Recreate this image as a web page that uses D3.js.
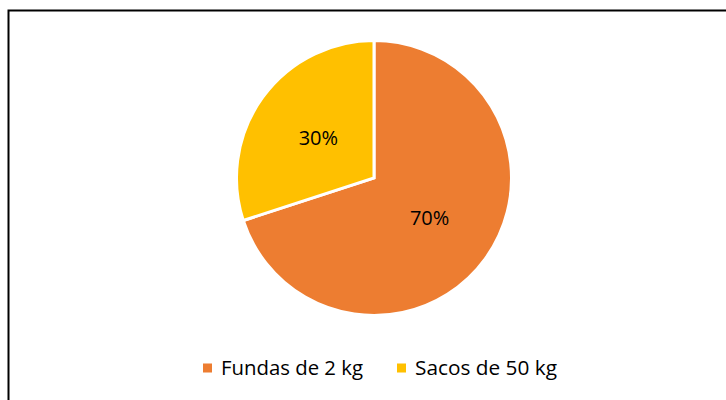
<!DOCTYPE html>
<html>
<head>
<meta charset="utf-8">
<script src="https://cdn.jsdelivr.net/npm/d3@7"></script>
<style>
  body { margin: 0; background: #fff; }
  text { font-family: "Open Sans", Lato, sans-serif; fill: #000; }
</style>
</head>
<body>
<div id="chart"></div>
<script>
// Données du graphique
const categories = ["Fundas de 2 kg", "Sacos de 50 kg"];
const values = [70, 30];
const labels = ["70%", "30%"];
const colors = ["#ED7D31", "#FFC000"];

const width = 726;
const height = 400;

const svg = d3.select("#chart")
    .append("svg")
    .attr("width", width)
    .attr("height", height);

// Cadre
svg.append("rect")
    .attr("x", 8.5)
    .attr("y", 10.5)
    .attr("width", 730)
    .attr("height", 400)
    .attr("fill", "none")
    .attr("stroke", "#000")
    .attr("stroke-width", 2);

const cx = 374, cy = 178, radius = 137.5;

const pie = d3.pie().sort(null).value(d => d);
const arc = d3.arc().innerRadius(0).outerRadius(radius);

const g = svg.append("g").attr("transform", `translate(${cx},${cy})`);

const slices = g.selectAll("g.slice")
    .data(pie(values))
    .enter()
    .append("g")
    .attr("class", "slice");

slices.append("path")
    .attr("d", arc)
    .attr("fill", (d, i) => colors[i])
    .attr("stroke", "#fff")
    .attr("stroke-width", 3)
    .attr("stroke-linejoin", "miter");

slices.append("text")
    .attr("transform", d => `translate(${arc.centroid(d)})`)
    .attr("text-anchor", "middle")
    .attr("dy", "0.35em")
    .attr("font-size", 20)
    .text((d, i) => labels[i]);

// Légende
const legend = svg.append("g").attr("transform", "translate(0,368)");
const itemX = [203, 397];
categories.forEach(function(c, i) {
    legend.append("rect")
        .attr("x", itemX[i])
        .attr("y", -4.5)
        .attr("width", 9)
        .attr("height", 9)
        .attr("fill", colors[i]);
    legend.append("text")
        .attr("x", itemX[i] + 18)
        .attr("y", 0)
        .attr("dy", "0.35em")
        .attr("font-size", 20)
        .attr("textLength", 142)
        .attr("lengthAdjust", "spacingAndGlyphs")
        .text(c);
});
</script>
</body>
</html>
